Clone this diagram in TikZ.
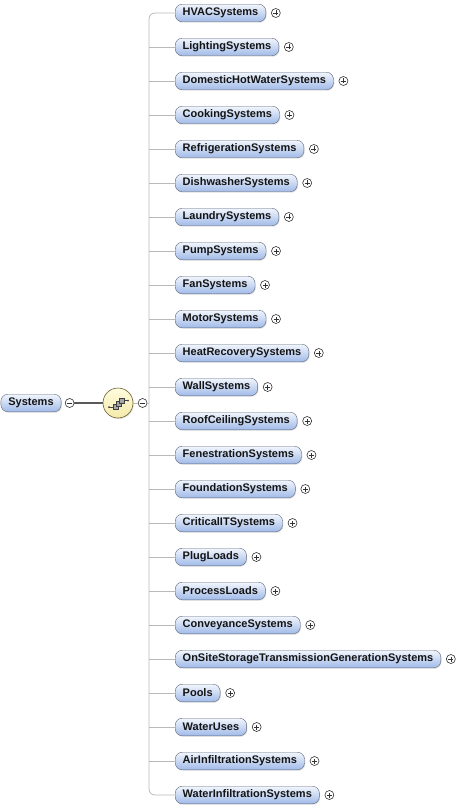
\documentclass[tikz,border=0pt]{standalone}
\usepackage{fontspec}
\setmainfont{Liberation Sans}
\usetikzlibrary{positioning}
\usetikzlibrary{calc}
\usetikzlibrary{shadows}

\definecolor{boxline}{RGB}{95,105,125}
\definecolor{boxtop}{RGB}{242,246,253}
\definecolor{boxbot}{RGB}{160,186,232}
\definecolor{wire}{RGB}{185,185,185}
\definecolor{seqtop}{RGB}{255,252,222}
\definecolor{seqbot}{RGB}{245,234,170}
\definecolor{seqline}{RGB}{105,95,50}

\tikzset{
  elem/.style={draw=boxline, rounded corners=7pt, top color=boxtop, bottom color=boxbot,
    inner xsep=7.5pt, inner ysep=0pt, minimum height=17.5pt, text=black!92,
    font=\bfseries\fontsize{11}{13}\selectfont,
    drop shadow={opacity=0.25, shadow xshift=0.8pt, shadow yshift=-1pt}},
  pm/.style={circle, draw=black!80, fill=white, minimum size=9pt, inner sep=0pt, line width=0.6pt,
    path picture={\draw[line width=0.6pt]
      ($(path picture bounding box.center)+(-2.5pt,0)$) -- ++(5pt,0)
      ($(path picture bounding box.center)+(0,-2.5pt)$) -- ++(0,5pt);}},
  mm/.style={circle, draw=black!80, fill=white, minimum size=9pt, inner sep=0pt, line width=0.6pt,
    path picture={\draw[line width=0.6pt]
      ($(path picture bounding box.center)+(-2.5pt,0)$) -- ++(5pt,0);}},
  child/.style={elem, anchor=west,
    append after command={node[pm, right=5pt of \tikzlastnode] (\tikzlastnode-pm) {}}},
  nxt/.style={below=34pt of #1, anchor=west},
  seq/.style={circle, draw=seqline, top color=seqtop, bottom color=seqbot, line width=0.6pt,
    minimum size=30pt, inner sep=0pt,
    drop shadow={opacity=0.25, shadow xshift=0.8pt, shadow yshift=-1pt}},
  sq/.style={draw=black!75, fill=black!35, line width=0.5pt},
  wire/.style={draw=wire, line width=0.8pt},
  link/.style={draw=black!65, line width=1.6pt}
}

\begin{document}
\begin{tikzpicture}[x=1pt, y=-1pt]
  \useasboundingbox (0,0) rectangle (475,810);

  % root and sequence compositor
  \node[elem] (systems) at (31,403) {Systems};
  \node[mm, right=3.5pt of systems] (sysmin) {};
  \node[seq] (seq) at (118,403) {};
  \node[mm, right=4.5pt of seq] (seqmin) {};
  \coordinate (trunk) at (149,403);

  \draw[sq] ($(seq.center)+(-5,1)$) rectangle ++(5,5);
  \draw[sq] ($(seq.center)+(-2,-2)$) rectangle ++(5,5);
  \draw[sq] ($(seq.center)+(1,-5)$) rectangle ++(5,5);
  \draw[black!75, line width=0.6pt] ($(seq.center)+(-9,4)$) -- ++(4,0)
    ($(seq.center)+(6,-2.5)$) -- ++(4,0);
  \fill[black!75] ($(seq.center)+(-9,4)$) circle (1pt) ($(seq.center)+(10,-2.5)$) circle (1pt);

  % children
  \node[child] (hvac) at (175,13) {HVACSystems};
  \node[child, nxt=hvac.west] (light) {LightingSystems};
  \node[child, nxt=light.west] (dhw) {DomesticHotWaterSystems};
  \node[child, nxt=dhw.west] (cook) {CookingSystems};
  \node[child, nxt=cook.west] (refrig) {RefrigerationSystems};
  \node[child, nxt=refrig.west] (dish) {DishwasherSystems};
  \node[child, nxt=dish.west] (laundry) {LaundrySystems};
  \node[child, nxt=laundry.west] (pump) {PumpSystems};
  \node[child, nxt=pump.west] (fan) {FanSystems};
  \node[child, nxt=fan.west] (motor) {MotorSystems};
  \node[child, nxt=motor.west] (heatrec) {HeatRecoverySystems};
  \node[child, nxt=heatrec.west] (wall) {WallSystems};
  \node[child, nxt=wall.west] (roof) {RoofCeilingSystems};
  \node[child, nxt=roof.west] (fenes) {FenestrationSystems};
  \node[child, nxt=fenes.west] (found) {FoundationSystems};
  \node[child, nxt=found.west] (critit) {CriticalITSystems};
  \node[child, nxt=critit.west] (plug) {PlugLoads};
  \node[child, nxt=plug.west] (process) {ProcessLoads};
  \node[child, nxt=process.west] (convey) {ConveyanceSystems};
  \node[child, nxt=convey.west] (onsite) {OnSiteStorageTransmissionGenerationSystems};
  \node[child, nxt=onsite.west] (pools) {Pools};
  \node[child, nxt=pools.west] (water) {WaterUses};
  \node[child, nxt=water.west] (airinf) {AirInfiltrationSystems};
  \node[child, nxt=airinf.west] (waterinf) {WaterInfiltrationSystems};

  % connectors
  \draw[link] (sysmin) -- (seq);
  \draw[wire] (seq) -- (seqmin) (seqmin) -- (trunk);
  \draw[wire, rounded corners=6pt] (hvac.west) -- (hvac.west -| trunk)
    -- (waterinf.west -| trunk) -- (waterinf.west);
  \draw[wire] (light.west) -- (light.west -| trunk) (dhw.west) -- (dhw.west -| trunk)
    (cook.west) -- (cook.west -| trunk) (refrig.west) -- (refrig.west -| trunk)
    (dish.west) -- (dish.west -| trunk) (laundry.west) -- (laundry.west -| trunk)
    (pump.west) -- (pump.west -| trunk) (fan.west) -- (fan.west -| trunk)
    (motor.west) -- (motor.west -| trunk) (heatrec.west) -- (heatrec.west -| trunk)
    (wall.west) -- (wall.west -| trunk) (roof.west) -- (roof.west -| trunk)
    (fenes.west) -- (fenes.west -| trunk) (found.west) -- (found.west -| trunk)
    (critit.west) -- (critit.west -| trunk) (plug.west) -- (plug.west -| trunk)
    (process.west) -- (process.west -| trunk) (convey.west) -- (convey.west -| trunk)
    (onsite.west) -- (onsite.west -| trunk) (pools.west) -- (pools.west -| trunk)
    (water.west) -- (water.west -| trunk) (airinf.west) -- (airinf.west -| trunk);
\end{tikzpicture}
\end{document}
